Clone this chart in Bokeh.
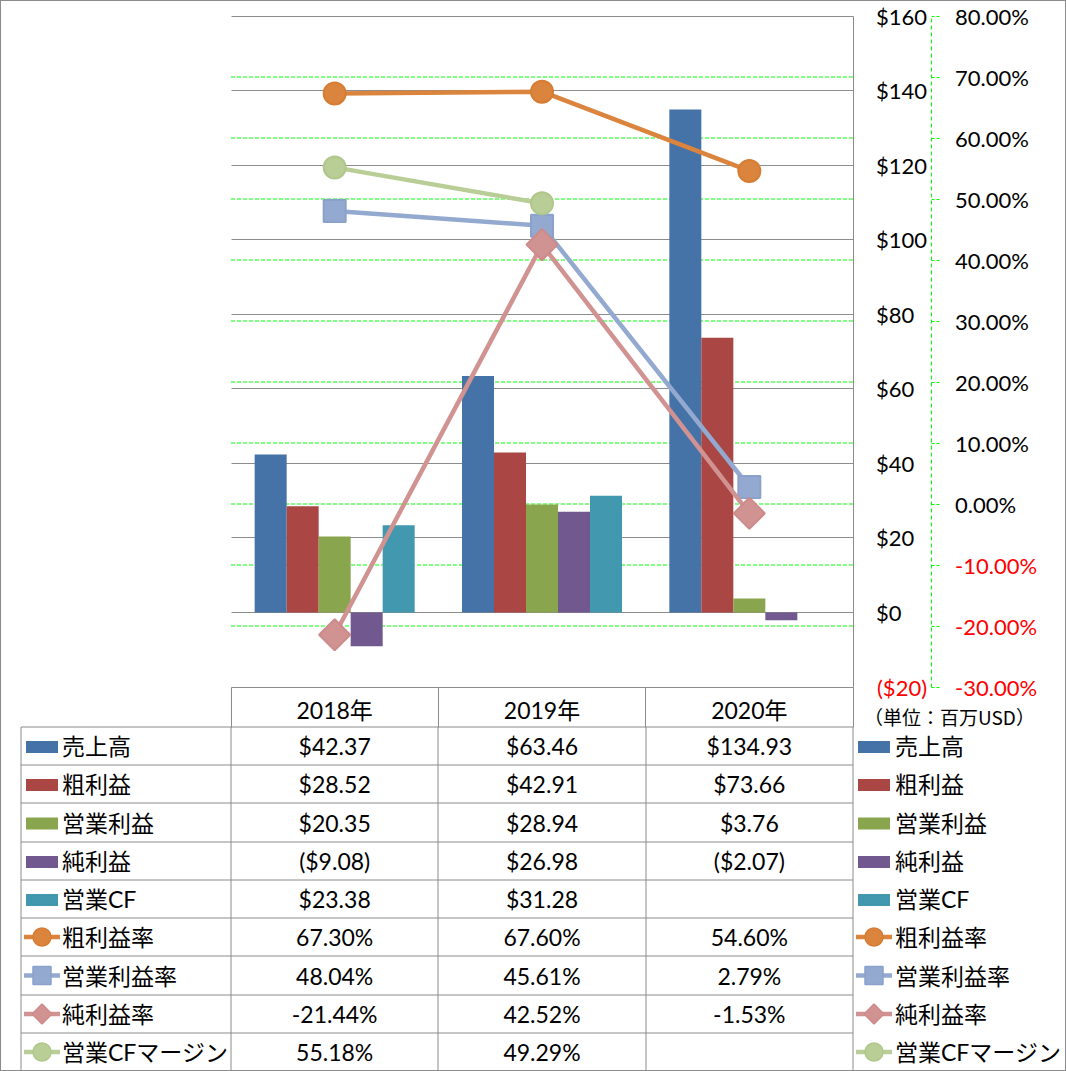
import math
from bokeh.plotting import figure
from bokeh.models import Range1d, LinearAxis, FixedTicker, Label
from bokeh.layouts import column
from bokeh.core.properties import value
from bokeh.embed import file_html
from bokeh.resources import INLINE

# ---------------- data ----------------
years = ["2018年", "2019年", "2020年"]
sales = [42.37, 63.46, 134.93]
gross_profit = [28.52, 42.91, 73.66]
operating_income = [20.35, 28.94, 3.76]
net_income = [-9.08, 26.98, -2.07]
operating_cf = [23.38, 31.28, None]
gross_margin = [67.30, 67.60, 54.60]
operating_margin = [48.04, 45.61, 2.79]
net_margin = [-21.44, 42.52, -1.53]
cf_margin = [55.18, 49.29, None]
usd_ticks = [-20, 0, 20, 40, 60, 80, 100, 120, 140, 160]
pct_ticks = [-30, -20, -10, 0, 10, 20, 30, 40, 50, 60, 70, 80]
unit_note = "（単位：百万USD）"

bar_series = [
    ("売上高", sales, "#4572A7"),
    ("粗利益", gross_profit, "#AA4643"),
    ("営業利益", operating_income, "#89A54E"),
    ("純利益", net_income, "#71588F"),
    ("営業CF", operating_cf, "#4198AF"),
]
line_series = [
    ("粗利益率", gross_margin, "#DB843D", "#D67C33", "circle"),
    ("営業利益率", operating_margin, "#93A9CF", "#8AA2CB", "square"),
    ("純利益率", net_margin, "#D19392", "#CC8B8A", "diamond"),
    ("営業CFマージン", cf_margin, "#B9CD96", "#B0C78B", "circle"),
]

# ---------------- layout constants (page pixel indices) ----------------
PAGE_W, PAGE_H = 1066, 1071
BORDER = 1
FIG_W = PAGE_W - 2 * BORDER
FIG_H = PAGE_H - 2 * BORDER
PLOT_L, PLOT_R, PLOT_T, PLOT_B = 230, 852, 15, 686   # plot area (pixel rows/cols)
TABLE_T = 726
TABLE_B = PAGE_H - BORDER
NCAT = len(years)
COL_W = (PLOT_R - PLOT_L) / NCAT
GRAY = "#8C8C8C"
LIME = "#00FF00"
RED = "#FF0000"
FONT = "Lato, Noto Sans CJK JP"
FS_AX = "22px"
FS_TB = "23px"

U0, U1 = usd_ticks[0], usd_ticks[-1]
P0, P1 = pct_ticks[0], pct_ticks[-1]


def x_at(px):
    return -0.5 + (px - PLOT_L) / COL_W


def usd_at(py):
    return U1 - (py - PLOT_T) * (U1 - U0) / (PLOT_B - PLOT_T)


def pct_at(py):
    return P1 - (py - PLOT_T) * (P1 - P0) / (PLOT_B - PLOT_T)


def fmt_usd_axis(v):
    return f"(${-v})" if v < 0 else f"${v}"


def fmt_pct_axis(v):
    return f"{v:.2f}%"


def fmt_usd(v):
    if v is None:
        return ""
    return f"(${-v:.2f})" if v < 0 else f"${v:.2f}"


def fmt_pct(v):
    return "" if v is None else f"{v:.2f}%"


# ---------------- figure (frame = whole page inside the border) ----------------
L_EDGE, R_EDGE = BORDER - 0.5, BORDER + FIG_W - 0.5
T_EDGE, B_EDGE = BORDER - 0.5, BORDER + FIG_H - 0.5
p = figure(width=FIG_W, height=FIG_H,
           x_range=Range1d(x_at(L_EDGE), x_at(R_EDGE)),
           y_range=Range1d(usd_at(B_EDGE), usd_at(T_EDGE)),
           y_axis_location="right",
           toolbar_location=None, output_backend="svg", min_border=0)
p.extra_y_ranges = {"pct": Range1d(pct_at(B_EDGE), pct_at(T_EDGE)),
                    "ty": Range1d(B_EDGE, T_EDGE)}
p.extra_x_ranges = {"tx": Range1d(L_EDGE, R_EDGE)}
p.outline_line_color = None
p.background_fill_color = "white"
p.border_fill_color = "white"

# grids (inside plot area only)
p.xgrid.visible = False
p.ygrid.ticker = FixedTicker(ticks=usd_ticks[1:])
p.ygrid.cross_bounds = (-0.5, NCAT - 0.5)
p.ygrid.grid_line_color = GRAY
p.ygrid.grid_line_width = 1
pct_lines = pct_ticks[1:-1]
p.segment(x0=[-0.5] * len(pct_lines), x1=[NCAT - 0.5] * len(pct_lines),
          y0=pct_lines, y1=pct_lines, y_range_name="pct",
          line_color=LIME, line_dash="4 2", line_width=1, level="underlay")

# x axis: bottom of the plot area + header row separators
xa = p.xaxis[0]
xa.fixed_location = U0
xa.bounds = (-0.5, NCAT - 0.5)
xa.ticker = FixedTicker(ticks=[i - 0.5 for i in range(NCAT + 1)])
xa.major_label_overrides = {i - 0.5: "" for i in range(NCAT + 1)}
xa.axis_line_color = GRAY
xa.major_tick_line_color = GRAY
xa.major_tick_out = TABLE_T - PLOT_B
xa.major_tick_in = 0
xa.minor_tick_line_color = None
xa.major_label_text_font_size = "1px"

# year header labels (second axis, same place)
ha = LinearAxis(fixed_location=U0, bounds=(-0.5, NCAT - 0.5),
                ticker=FixedTicker(ticks=list(range(NCAT))))
ha.major_label_overrides = {i: y for i, y in enumerate(years)}
ha.axis_line_color = None
ha.major_tick_line_color = None
ha.minor_tick_line_color = None
ha.major_tick_out = 0
ha.major_tick_in = 0
ha.major_label_standoff = 9
ha.major_label_text_font = FONT
ha.major_label_text_font_size = FS_TB
ha.major_label_text_color = "black"
p.add_layout(ha, "below")

# $ axis
ya = p.yaxis[0]
ya.fixed_location = NCAT - 0.5
ya.bounds = (U0, U1)
ya.ticker = FixedTicker(ticks=usd_ticks)
ya.major_label_overrides = {v: ("" if v < 0 else fmt_usd_axis(v)) for v in usd_ticks}
ya.axis_line_color = GRAY
ya.major_tick_line_color = None
ya.minor_tick_line_color = None
ya.major_tick_out = 0
ya.major_tick_in = 0
ya.major_label_standoff = 23
ya.major_label_text_font = FONT
ya.major_label_text_font_size = FS_AX
ya.major_label_text_color = "black"

# % axis
pa = LinearAxis(y_range_name="pct", ticker=FixedTicker(ticks=pct_ticks),
                fixed_location=x_at(930), bounds=(P0, P1))
pa.major_label_overrides = {v: ("" if v < 0 else fmt_pct_axis(v)) for v in pct_ticks}
pa.axis_line_color = LIME
pa.axis_line_dash = "4 3"
pa.major_tick_line_color = LIME
pa.major_tick_line_dash = "3 2"
pa.major_tick_out = 8
pa.major_tick_in = 0
pa.minor_tick_line_color = None
pa.major_label_standoff = 16
pa.major_label_text_font = FONT
pa.major_label_text_font_size = FS_AX
pa.major_label_text_color = "black"
p.add_layout(pa, "right")

# red negative tick labels
for v in usd_ticks:
    if v < 0:
        p.add_layout(Label(x=x_at(876), y=v, text=fmt_usd_axis(v),
                           text_color=RED, text_font=FONT, text_font_size=FS_AX,
                           text_align="left", text_baseline="middle"))
for v in pct_ticks:
    if v < 0:
        p.add_layout(Label(x=x_at(954), y=v, y_range_name="pct", text=fmt_pct_axis(v),
                           text_color=RED, text_font=FONT, text_font_size=FS_AX,
                           text_align="left", text_baseline="middle"))
p.add_layout(Label(x=x_at(863), y=usd_at(715), text=unit_note,
                   text_color="black", text_font="Noto Sans CJK JP", text_font_size="19px",
                   text_align="left", text_baseline="middle"))

# bars
bar_w = 32 / COL_W
nb = len(bar_series)
for k, (name, vals, color) in enumerate(bar_series):
    xs = [i + (k - (nb - 1) / 2) * bar_w for i, v in enumerate(vals) if v is not None]
    tops = [v for v in vals if v is not None]
    p.vbar(x=xs, top=tops, bottom=0, width=bar_w, fill_color=color, line_color=None)

# lines
for name, vals, color, edge, marker in line_series:
    xs = [i for i, v in enumerate(vals) if v is not None]
    ys = [v for v in vals if v is not None]
    p.line(xs, ys, y_range_name="pct", line_width=4.5, line_color=color)
    if marker == "diamond":
        p.scatter(xs, ys, y_range_name="pct", marker="square", size=22, angle=math.pi / 4,
                  fill_color=color, line_color=edge, line_width=2)
    else:
        p.scatter(xs, ys, y_range_name="pct", marker=marker, size=22,
                  fill_color=color, line_color=edge, line_width=2)

# ---------------- data table (page-pixel ranges "tx"/"ty") ----------------
TB = dict(x_range_name="tx", y_range_name="ty")
rows = [(n, v, c, None, fmt_usd) for n, v, c in bar_series] + \
       [(n, v, c, (e, m), fmt_pct) for n, v, c, e, m in line_series]
nrows = len(rows)
row_h = (TABLE_B - TABLE_T) / nrows
edges = [TABLE_T + round(i * row_h) for i in range(nrows + 1)]
centers = [(edges[i] + edges[i + 1]) / 2 for i in range(nrows)]
col_edges = [round(PLOT_L + j * COL_W) for j in range(NCAT + 1)]
col_centers = [PLOT_L + (j + 0.5) * COL_W for j in range(NCAT)]
LEG_L = 20

p.segment(x0=[LEG_L] * nrows, x1=[PLOT_R] * nrows, y0=edges[:-1], y1=edges[:-1],
          line_color=GRAY, line_width=1, **TB)
vx = [LEG_L] + col_edges
p.segment(x0=vx, x1=vx, y0=[TABLE_T] * len(vx), y1=[TABLE_B] * len(vx),
          line_color=GRAY, line_width=1, **TB)

names = [r[0] for r in rows]
p.text(x=[61] * nrows, y=centers, text=names, text_font=value(FONT), text_font_size=FS_TB,
       text_align="left", text_baseline="middle", text_color="black", **TB)
p.text(x=[894] * nrows, y=centers, text=names, text_font=value(FONT), text_font_size=FS_TB,
       text_align="left", text_baseline="middle", text_color="black", **TB)
vx_, vy_, vt_ = [], [], []
for r, (n, vals, c, mk, fmt) in enumerate(rows):
    for j, v in enumerate(vals):
        s = fmt(v)
        if s:
            vx_.append(col_centers[j]); vy_.append(centers[r]); vt_.append(s)
p.text(x=vx_, y=vy_, text=vt_, text_font=value(FONT), text_font_size=FS_TB,
       text_align="center", text_baseline="middle", text_color="black", **TB)

for r, (n, vals, c, mk, fmt) in enumerate(rows):
    for cx in (41, 873):
        if mk is None:
            p.rect(x=[cx], y=[centers[r] + 1], width=32, height=12, fill_color=c,
                   line_color=None, **TB)
        else:
            edge, marker = mk
            p.segment(x0=[cx - 18], x1=[cx + 18], y0=[centers[r]], y1=[centers[r]],
                      line_color=c, line_width=4.5, **TB)
            if marker == "diamond":
                p.scatter(x=[cx], y=[centers[r]], marker="square", size=14, angle=math.pi / 4,
                          fill_color=c, line_color=edge, line_width=1.5, **TB)
            else:
                p.scatter(x=[cx], y=[centers[r]], marker=marker, size=18,
                          fill_color=c, line_color=edge, line_width=1.5, **TB)

layout = column(p, styles={"border": f"{BORDER}px solid {GRAY}", "box-sizing": "content-box"})
open("out.html", "w").write(file_html(layout, INLINE))
